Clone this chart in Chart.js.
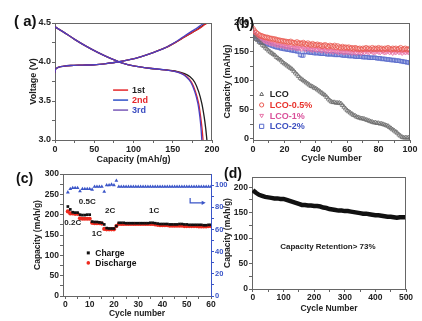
<!DOCTYPE html>
<html>
<head>
<meta charset="utf-8">
<script src="https://cdn.jsdelivr.net/npm/chart.js@4.4.1/dist/chart.umd.min.js"></script>
<style>
  body { margin: 0; background: #fff; width: 422px; height: 321px; overflow: hidden; position: relative; font-family: "Liberation Sans", Arial, sans-serif; }
  canvas { position: absolute; }
  .tag { position: absolute; font-weight: bold; line-height: 1; color: #111; white-space: pre; }
</style>
</head>
<body>
<canvas id="ca" width="222" height="167" style="left:0;top:0"></canvas>
<canvas id="cb" width="207" height="166" style="left:215px;top:0"></canvas>
<canvas id="cc" width="240" height="158" style="left:0;top:163px"></canvas>
<canvas id="cd" width="217" height="158" style="left:205px;top:163px"></canvas>
<div class="tag" style="left:14px;top:13px;font-size:15px">( a)</div>
<div class="tag" style="left:236px;top:16px;font-size:14px">(b)</div>
<div class="tag" style="left:16px;top:171px;font-size:14px">(c)</div>
<div class="tag" style="left:224px;top:166px;font-size:14px">(d)</div>
<script>
// ---- (a) charge / discharge profiles ----
var chargeV = [3.86, 3.90, 3.92, 3.935, 3.945, 3.955, 3.96, 3.965, 3.98, 4.0, 4.03, 4.07, 4.12, 4.18, 4.26, 4.32, 4.38, 4.43, 4.48, 4.5];
var chg1Cap = [0, 0.5, 2, 5, 10, 20, 35, 50, 65, 80, 95, 110, 125, 140, 155, 165, 175, 183, 190, 193];
var chg2Cap = [0, 0.5, 2, 5, 10, 20, 35, 50, 65, 80, 95, 110, 125, 140, 155, 165, 175, 184, 191, 194];
var chg3Cap = [0, 0.5, 2, 5, 10, 20, 35, 50, 65, 80, 95, 110, 125, 140, 154, 163, 172, 180, 187, 190];
var dischV = [4.45, 4.39, 4.29, 4.2, 4.12, 4.05, 3.99, 3.95, 3.92, 3.9, 3.88, 3.85, 3.81, 3.74, 3.62, 3.47, 3.3, 3.15, 3.0];
var dis1Cap = [0, 10, 25, 40, 55, 70, 85, 100, 120, 140, 155, 165, 172, 178, 183, 187, 190, 192, 193.5];
var dis2Cap = [0, 10, 25, 40, 55, 70, 85, 100, 120, 140, 153, 162, 168, 174, 179, 183, 185.5, 187.3, 188.6];
var dis3Cap = [0, 10, 25, 40, 55, 70, 85, 100, 120, 140, 152, 161, 167, 173, 178, 182, 184.5, 186, 187];
var cycleNames = ['1st', '2nd', '3rd'];

// ---- (b) cycling of doped samples, cycle 0..100 ----
var bNames = ['LCO', 'LCO-0.5%', 'LCO-1%', 'LCO-2%'];
var lco = [177,175,172,170,167,165,162,160,157,155, 152,150,148,146,144,141,139,137,135,132,
  130,128,126,124,122,120,117,114,111,108, 105,103,101,99,97,95,93,91,90,88,
  87,85,83,81,79,77,75,72,69,66, 64,63,63,62,62,62,61,58,55,52,
  49,47,45,43,41,40,38,37,36,35, 35,34,33,32,31,30,29,28,28,27,
  27,26,26,25,24,23,22,20,18,16, 14,12,10,7,5,3,2,2,2,2, 2];
var lco05 = [190,186,183,181,179,178,177,176,175,175, 174,173,173,172,172,171,170,170,169,169,
  168,168,167,167,168,166,166,165,167,165, 165,164,166,164,163,165,163,162,164,162,
  162,163,161,162,160,161,162,160,159,161, 160,159,161,158,160,158,157,159,157,158,
  157,158,156,157,155,157,156,155,156,154, 156,155,157,155,156,154,157,155,156,155,
  157,155,156,154,156,155,157,155,154,156, 155,156,154,155,157,154,155,156,154,155, 154];
var lco1 = [186,182,178,175,173,171,170,169,168,167, 166,165,164,164,163,162,162,161,161,160,
  160,159,159,158,158,157,158,157,156,157, 156,155,157,155,154,156,155,154,153,155,
  154,153,155,153,152,154,152,151,153,151, 152,150,152,151,150,149,151,150,149,150,
  150,149,150,148,150,149,148,150,149,148, 150,149,151,150,149,151,150,149,150,151,
  150,149,151,150,149,150,151,149,150,148, 150,149,151,149,150,148,150,149,150,149, 148];
var lco2 = [183,179,175,172,170,168,167,166,165,164, 163,162,161,160,159,158,158,157,156,156,
  155,155,154,154,153,153,152,152,151,151, 145,144,144,150,150,150,149,149,149,148,
  148,148,148,147,147,147,147,146,146,146, 146,146,145,145,145,145,145,144,144,144,
  144,143,143,143,143,142,142,142,142,142, 141,141,141,141,140,140,140,140,140,139,
  139,139,138,138,138,137,137,137,136,136, 136,135,135,135,134,134,133,133,132,132, 131];

// ---- (c) rate test, cycle 1..60 ----
var cCharge = [220,213,206,205,205,200,199,199,200,200, 183,182,182,181,180,176,167,166,166,166,
  172,180,180,180,179,179,179,179,179,179, 179,179,179,179,180,180,179,178,177,177,
  177,177,176,176,176,176,177,177,176,176, 175,175,175,175,175,175,174,174,175,175];
var cDischarge = [208,203,203,202,202,191,190,190,190,190, 180,179,179,179,178,165,164,164,164,164,
  172,177,177,177,177,177,177,177,177,177, 177,177,177,177,177,177,176,175,174,174,
  174,174,173,173,173,173,173,173,172,172, 172,172,172,172,171,171,171,171,172,172];
var cEff = [93.5,96.5,97.5,97.5,97.5,94.5,96.5,96.5,96.5,96.5, 96,98.5,98.5,98.5,98.5,94,100,100,100.5,100,
  104,98.5,98.5,98.5,98.5,98.5,98.5,98.5,98.5,98.5, 98.5,98.5,98.5,98.5,98.5,98.5,98.5,98.5,98.5,98.5,
  98.5,98.5,98.5,98.5,98.5,98.5,98.5,98.5,98.5,98.5, 98.5,98.5,98.5,98.5,98.5,98.5,98.5,98.5,98.5,98.5];
var rateLabels = ['0.2C', '0.5C', '1C', '2C', '1C'];

// ---- (d) long cycling, every 10 cycles ----
var dCycles = [0,10,20,30,40,50,60,70,80,90,100,110,120,130,140,150,160,170,180,190,200,210,220,230,240,250,
  260,270,280,290,300,310,320,330,340,350,360,370,380,390,400,410,420,430,440,450,460,470,480,490,500];
var dCap = [194,189,185,183,181,180,179,178,178,177,177,175,173,171,169,167,165,165,164,164,163,163,162,160,159,157,
  156,155,154,154,153,153,152,151,150,149,148,148,147,146,145,145,144,143,142,142,141,140,141,141,141];

var FAM = '"Liberation Sans", Arial, sans-serif';
Chart.defaults.font.family = FAM;
Chart.defaults.color = '#222';

function xy(xs, ys) { return xs.map(function (v, i) { return { x: v, y: ys[i] }; }); }
function idx(ys, start) { return ys.map(function (v, i) { return { x: i + start, y: v }; }); }

function tickSet(major, minor, fmt) {
  return {
    after: function (s) {
      s.ticks = major.concat(minor).sort(function (a, b) { return a - b; }).map(function (v) { return { value: v }; });
    },
    cb: function (v) { return major.indexOf(v) >= 0 ? (fmt ? fmt(v) : String(v)) : ''; }
  };
}

function axis(opt) {
  var t = tickSet(opt.major, opt.minor, opt.fmt);
  var c = opt.color || '#222';
  return {
    type: 'linear', position: opt.pos, min: opt.min, max: opt.max,
    afterBuildTicks: t.after,
    afterFit: function (s) { if (opt.w) s.width = opt.w; if (opt.h) s.height = opt.h; },
    grid: { display: true, drawOnChartArea: false, drawTicks: true, tickLength: 3, color: opt.line || '#666' },
    border: { display: true, color: opt.line || '#666', width: 1 },
    ticks: { autoSkip: false, maxRotation: 0, minRotation: 0, padding: 1, color: c, callback: t.cb,
      font: { size: opt.fs || 9, weight: 'bold' } },
    title: { display: true, text: opt.title, color: '#222', padding: opt.tp,
      font: { size: opt.tfs || 9, weight: 'bold' } }
  };
}

function drawMark(ctx, style, x, y, r, fill, stroke) {
  ctx.beginPath();
  if (style === 'circle') ctx.arc(x, y, r, 0, Math.PI * 2);
  else if (style === 'rect') ctx.rect(x - r, y - r, 2 * r, 2 * r);
  else if (style === 'triangle') { ctx.moveTo(x, y - r); ctx.lineTo(x + r * 0.9, y + r * 0.6); ctx.lineTo(x - r * 0.9, y + r * 0.6); ctx.closePath(); }
  else if (style === 'triangleDown') { ctx.moveTo(x, y + r); ctx.lineTo(x + r * 0.9, y - r * 0.6); ctx.lineTo(x - r * 0.9, y - r * 0.6); ctx.closePath(); }
  if (fill) { ctx.fillStyle = fill; ctx.fill(); }
  if (stroke) { ctx.strokeStyle = stroke; ctx.lineWidth = 1; ctx.stroke(); }
}

// top / right frame lines
var boxPlugin = {
  id: 'box',
  afterDraw: function (chart, args, o) {
    var a = chart.chartArea, ctx = chart.ctx;
    ctx.save();
    ctx.strokeStyle = o.color || '#666';
    ctx.lineWidth = 1;
    ctx.beginPath();
    ctx.moveTo(a.left, a.top + 0.5);
    ctx.lineTo(a.right, a.top + 0.5);
    if (o.right !== false) { ctx.moveTo(a.right - 0.5, a.top); ctx.lineTo(a.right - 0.5, a.bottom); }
    ctx.stroke();
    ctx.restore();
  }
};

// legend placed inside the plot, anchored at data coordinates
var keyPlugin = {
  id: 'key',
  afterDatasetsDraw: function (chart, args, o) {
    if (!o.items) return;
    var ctx = chart.ctx;
    var x0 = chart.scales.x.getPixelForValue(o.x);
    var y0 = chart.scales[o.axis || 'y'].getPixelForValue(o.y);
    ctx.save();
    ctx.font = o.font;
    ctx.textBaseline = 'middle';
    ctx.textAlign = 'left';
    o.items.forEach(function (it, i) {
      var y = y0 + i * o.gap;
      if (it.line) {
        ctx.strokeStyle = it.line; ctx.lineWidth = 1.5;
        ctx.beginPath(); ctx.moveTo(x0, y); ctx.lineTo(x0 + o.swatch, y); ctx.stroke();
      } else {
        drawMark(ctx, it.style, x0 + o.swatch / 2, y, it.r, it.fill, it.stroke);
      }
      ctx.fillStyle = it.color;
      ctx.fillText(it.text, x0 + o.swatch + o.pad, y + 0.5);
    });
    ctx.restore();
  }
};

// free text labels and arrows at data coordinates
var notePlugin = {
  id: 'notes',
  afterDatasetsDraw: function (chart, args, o) {
    if (!o.items) return;
    var ctx = chart.ctx, sx = chart.scales.x;
    ctx.save();
    o.items.forEach(function (t) {
      var sy = chart.scales[t.axis || 'y'];
      if (t.arrow) {
        var ax = sx.getPixelForValue(t.arrow[0]), ay = sy.getPixelForValue(t.arrow[1]);
        var bx = sx.getPixelForValue(t.arrow[2]), by = sy.getPixelForValue(t.arrow[3]);
        ctx.strokeStyle = t.color; ctx.fillStyle = t.color; ctx.lineWidth = 1.2;
        ctx.beginPath(); ctx.moveTo(ax, ay); ctx.lineTo(ax, by); ctx.lineTo(bx - 3, by); ctx.stroke();
        ctx.beginPath(); ctx.moveTo(bx, by); ctx.lineTo(bx - 4, by - 2.2); ctx.lineTo(bx - 4, by + 2.2); ctx.closePath(); ctx.fill();
        return;
      }
      ctx.font = t.font;
      ctx.fillStyle = t.color;
      ctx.textAlign = 'center';
      ctx.textBaseline = 'middle';
      ctx.fillText(t.text, sx.getPixelForValue(t.x), sy.getPixelForValue(t.y));
    });
    ctx.restore();
  }
};

var plugs = [boxPlugin, keyPlugin, notePlugin];

// ========== (a) ==========
var blackC = '#1e1e1e', redC = '#e5262a', blueC = '#4a3fc2';
function curve(xs, ys, col) {
  return { data: xy(xs, ys), showLine: true, borderColor: col, borderWidth: 1.3, pointRadius: 0, tension: 0.3 };
}
new Chart(document.getElementById('ca'), {
  type: 'scatter',
  data: { datasets: [
    curve(chg3Cap, chargeV, blueC), curve(dis3Cap, dischV, blueC),
    curve(chg2Cap, chargeV, redC), curve(dis2Cap, dischV, redC),
    curve(chg1Cap, chargeV, blackC), curve(dis1Cap, dischV, blackC)
  ] },
  options: {
    responsive: false, animation: false,
    layout: { padding: { left: 0, right: 10, top: 23, bottom: 0 } },
    plugins: {
      legend: { display: false }, tooltip: { enabled: false },
      box: {},
      key: { x: 74, y: 3.64, gap: 10, swatch: 15, pad: 4, font: 'bold 9px ' + FAM, items: [
        { text: cycleNames[0], line: '#e5262a', color: '#1e1e1e' },
        { text: cycleNames[1], line: '#3050c8', color: '#e5262a' },
        { text: cycleNames[2], line: '#7a5ab8', color: '#3a4cc0' }
      ] }
    },
    scales: {
      x: axis({ pos: 'bottom', min: 0, max: 200, major: [0, 50, 100, 150, 200], minor: [25, 75, 125, 175],
        h: 27, title: 'Capacity (mAh/g)', tp: { top: 0, bottom: 2 } }),
      y: axis({ pos: 'left', min: 3.0, max: 4.5, major: [3.0, 3.5, 4.0, 4.5], minor: [3.25, 3.75, 4.25],
        fmt: function (v) { return v.toFixed(1); }, w: 55, title: 'Voltage (V)', tp: { top: 28, bottom: 0 } })
    }
  },
  plugins: plugs
});

// ========== (b) ==========
var bStyle = [
  { style: 'triangle', rot: 0, col: '#6a6a6a', text: '#222' },
  { style: 'circle', rot: 0, col: '#ea5a52', text: '#e8332c' },
  { style: 'triangle', rot: 180, col: '#e874a8', text: '#d9509a' },
  { style: 'rect', rot: 0, col: '#5a6ccc', text: '#3c4fc0' }
];
function marks(vals, s) {
  return { data: idx(vals, 0), showLine: false, pointStyle: s.style, rotation: s.rot, pointRadius: 2.5,
    pointBorderWidth: 0.8, borderColor: s.col, pointBorderColor: s.col, pointBackgroundColor: 'rgba(255,255,255,0)' };
}
new Chart(document.getElementById('cb'), {
  type: 'scatter',
  data: { datasets: [marks(lco, bStyle[0]), marks(lco05, bStyle[1]), marks(lco1, bStyle[2]), marks(lco2, bStyle[3])] },
  options: {
    responsive: false, animation: false,
    layout: { padding: { left: 0, right: 12, top: 23, bottom: 0 } },
    plugins: {
      legend: { display: false }, tooltip: { enabled: false },
      box: {},
      key: { x: 3.6, y: 77, gap: 10.7, swatch: 6, pad: 5, font: 'bold 9px ' + FAM, items: bNames.map(function (n, i) {
        var s = bStyle[i];
        return { text: n, style: s.rot ? 'triangleDown' : s.style, r: 2.1, fill: null, stroke: s.col, color: s.text };
      }) }
    },
    scales: {
      x: axis({ pos: 'bottom', min: 0, max: 100, major: [0, 20, 40, 60, 80, 100], minor: [10, 30, 50, 70, 90],
        h: 26, title: 'Cycle Number', tp: { top: 0, bottom: 2 } }),
      y: axis({ pos: 'left', min: -2, max: 200, major: [0, 50, 100, 150, 200], minor: [25, 75, 125, 175],
        w: 38, title: 'Capacity (mAh/g)', tp: { top: 7, bottom: 0 } })
    }
  },
  plugins: plugs
});

// ========== (c) ==========
var ceBlue = '#3a55c8';
var yc = axis({ pos: 'left', min: 0, max: 300, major: [0, 50, 100, 150, 200, 250, 300], minor: [25, 75, 125, 175, 225, 275],
  w: 63, fs: 8.5, tfs: 8.5, title: 'Capacity (mAh/g)', tp: { top: 33, bottom: 0 } });
var y2 = axis({ pos: 'right', min: 0, max: 110, major: [0, 20, 40, 60, 80, 100], minor: [10, 30, 50, 70, 90],
  w: 29, fs: 7.5, color: ceBlue, line: ceBlue, title: '' });
y2.title.display = false;
new Chart(document.getElementById('cc'), {
  type: 'scatter',
  data: { datasets: [
    { data: idx(cCharge, 1), pointStyle: 'rect', pointRadius: 1.9, pointBackgroundColor: '#111', pointBorderWidth: 0, yAxisID: 'y' },
    { data: idx(cDischarge, 1), pointStyle: 'circle', pointRadius: 2.1, pointBackgroundColor: '#ee2a1e', pointBorderWidth: 0, yAxisID: 'y' },
    { data: idx(cEff, 1), pointStyle: 'triangle', pointRadius: 2.2, pointBackgroundColor: ceBlue, pointBorderWidth: 0, yAxisID: 'y2' }
  ] },
  options: {
    responsive: false, animation: false,
    layout: { padding: { left: 0, right: 0, top: 11, bottom: 0 } },
    plugins: {
      legend: { display: false }, tooltip: { enabled: false },
      box: { right: false },
      key: { x: 8.6, y: 106, gap: 10, swatch: 4, pad: 5, font: 'bold 8.5px ' + FAM, items: [
        { text: 'Charge', style: 'rect', r: 1.5, fill: '#111', color: '#111' },
        { text: 'Discharge', style: 'circle', r: 1.8, fill: '#ee2a1e', color: '#111' }
      ] },
      notes: { items: [
        { text: rateLabels[0], x: 3, y: 180, font: 'bold 8px ' + FAM, color: '#222' },
        { text: rateLabels[1], x: 9, y: 231, font: 'bold 8px ' + FAM, color: '#222' },
        { text: rateLabels[2], x: 13, y: 152, font: 'bold 8px ' + FAM, color: '#222' },
        { text: rateLabels[3], x: 18.4, y: 209, font: 'bold 8px ' + FAM, color: '#222' },
        { text: rateLabels[4], x: 36.6, y: 209, font: 'bold 8px ' + FAM, color: '#222' },
        { arrow: [51.4, 241, 57.8, 229], color: ceBlue }
      ] }
    },
    scales: {
      x: axis({ pos: 'bottom', min: -1, max: 60, major: [0, 10, 20, 30, 40, 50, 60], minor: [5, 15, 25, 35, 45, 55],
        h: 25, fs: 8.5, tfs: 8.5, title: 'Cycle number', tp: { top: 0, bottom: 2 } }),
      y: yc,
      y2: y2
    }
  },
  plugins: plugs
});

// ========== (d) ==========
new Chart(document.getElementById('cd'), {
  type: 'scatter',
  data: { datasets: [
    { data: xy(dCycles, dCap), showLine: true, borderColor: '#111', borderWidth: 4.5, pointRadius: 0, tension: 0 }
  ] },
  options: {
    responsive: false, animation: false,
    layout: { padding: { left: 0, right: 16, top: 14, bottom: 0 } },
    plugins: {
      legend: { display: false }, tooltip: { enabled: false },
      box: {},
      notes: { items: [
        { text: 'Capacity Retention> 73%', x: 245, y: 83, font: 'bold 8px ' + FAM, color: '#222' }
      ] }
    },
    scales: {
      x: axis({ pos: 'bottom', min: -3, max: 500, major: [0, 100, 200, 300, 400, 500], minor: [50, 150, 250, 350, 450],
        h: 32, fs: 8.5, tfs: 8.5, title: 'Cycle Number', tp: { top: 0, bottom: 7 } }),
      y: axis({ pos: 'left', min: 0, max: 220, major: [0, 50, 100, 150, 200], minor: [25, 75, 125, 175],
        w: 47, fs: 8.5, tfs: 8.5, title: 'Capacity (mAh/g)', tp: { top: 18, bottom: 0 } })
    }
  },
  plugins: plugs
});
</script>
</body>
</html>
